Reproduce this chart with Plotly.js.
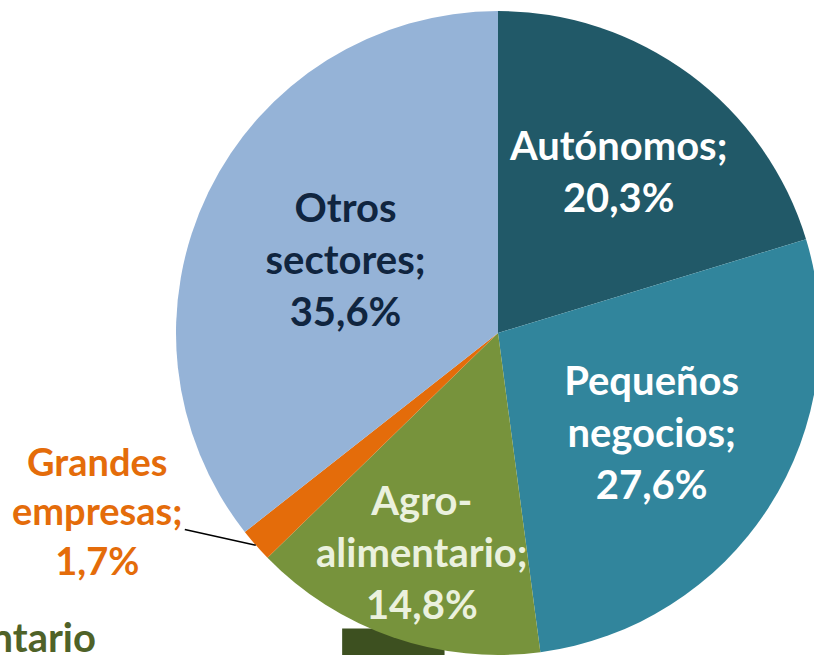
<!DOCTYPE html>
<html>
<head>
<meta charset="utf-8">
<script src="https://cdn.plot.ly/plotly-3.0.1.min.js"></script>
<style>
  html, body { margin: 0; padding: 0; overflow: hidden; background: #fff; }
  #chart { position: absolute; left: 0; top: 0; }
</style>
</head>
<body>
<div id="chart"></div>
<script>
// Reparto por tipo de cliente (%)
const sectors = ["Autónomos", "Pequeños negocios", "Agro-alimentario", "Grandes empresas", "Otros sectores"];
const labelText = ["Autónomos;<br>20,3%", "Pequeños<br>negocios;<br>27,6%", "Agro-<br>alimentario;<br>14,8%", "Grandes<br>empresas;<br>1,7%", "Otros<br>sectores;<br>35,6%"];
const shares = [20.3, 27.6, 14.8, 1.7, 35.6];
const sliceColors = ["#215968", "#31859C", "#77933C", "#E46C0A", "#95B3D7"];
const textColors = ["#FFFFFF", "#FFFFFF", "#EBF1DE", "#E46C0A", "#10253F"];
// slices whose label is drawn as an annotation (too big for the wedge)
const annotated = [2, 3];

const W = 830, H = 660;
const margin = { l: 176, r: 10, t: 11, b: 5 };

const total = shares.reduce((a, b) => a + b, 0);
function midAngle(i) {
  const before = shares.slice(0, i).reduce((a, b) => a + b, 0);
  return 2 * Math.PI * (before + shares[i] / 2) / total;
}
function polar(i, r) {
  const t = midAngle(i);
  return { x: 0.5 + 0.5 * r * Math.sin(t), y: 0.5 + 0.5 * r * Math.cos(t) };
}

const trace = {
  type: "pie",
  labels: sectors,
  values: shares,
  text: labelText.map((t, i) => (annotated.includes(i) ? "" : t)),
  textinfo: "text",
  textposition: "inside",
  insidetextorientation: "horizontal",
  sort: false,
  direction: "clockwise",
  rotation: 0,
  marker: { colors: sliceColors, line: { width: 0 } },
  insidetextfont: { family: "Lato, sans-serif", size: 40, color: textColors, weight: "bold" },
  hoverinfo: "label+percent",
  showlegend: false
};

const agroPos = polar(2, 0.72);
const grandesPos = polar(3, 1.0);

const layout = {
  width: W,
  height: H,
  margin: margin,
  paper_bgcolor: "#fff",
  showlegend: false,
  shapes: [{
    type: "rect", xref: "paper", yref: "paper", layer: "below",
    x0: 0.258, x1: 0.417, y0: -0.02, y1: 0.041,
    fillcolor: "#3D5020", line: { width: 0 }
  }],
  annotations: [
    {
      xref: "paper", yref: "paper",
      x: agroPos.x, y: agroPos.y,
      xanchor: "center", yanchor: "middle",
      text: labelText[2], showarrow: false,
      font: { family: "Lato, sans-serif", size: 40, color: textColors[2], weight: "bold" },
      align: "center"
    },
    {
      xref: "paper", yref: "paper",
      x: grandesPos.x, y: grandesPos.y,
      text: labelText[3],
      showarrow: true, arrowhead: 0, arrowwidth: 1.5, arrowcolor: "#000",
      ax: -158, ay: -35,
      font: { family: "Lato, sans-serif", size: 38, color: textColors[3], weight: "bold" },
      align: "center"
    },
    {
      xref: "paper", yref: "paper",
      x: -0.121, y: -0.012,
      xanchor: "right", yanchor: "bottom",
      text: "Agroalimentario", showarrow: false,
      font: { family: "Lato, sans-serif", size: 40, color: "#4F6228", weight: "bold" }
    }
  ]
};

Plotly.newPlot("chart", [trace], layout, { displayModeBar: false, staticPlot: true });
</script>
</body>
</html>
